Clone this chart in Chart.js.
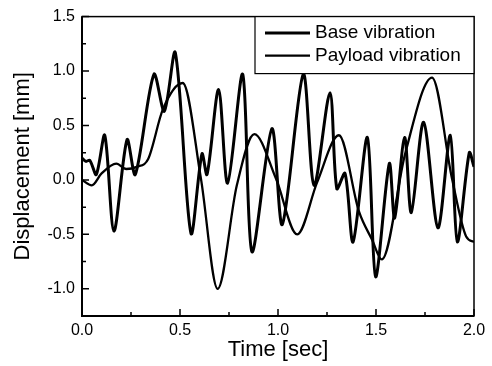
<!DOCTYPE html>
<html>
<head>
<meta charset="utf-8">
<script src="https://cdn.jsdelivr.net/npm/chart.js@4/dist/chart.umd.min.js"></script>
<style>
  html, body { margin: 0; padding: 0; background: #fff; }
</style>
</head>
<body>
<canvas id="chart" width="492" height="366"></canvas>
<script>
// --- data ---
const seriesNames = ["Base vibration", "Payload vibration"];

const baseTime = [0.000, 0.020, 0.040, 0.073, 0.116, 0.163, 0.230, 0.272, 0.367, 0.420, 0.476,
  0.556, 0.612, 0.638, 0.697, 0.743, 0.820, 0.867, 0.969, 1.022, 1.129, 1.184, 1.265,
  1.300, 1.342, 1.383, 1.456, 1.498, 1.568, 1.595, 1.646, 1.680, 1.743, 1.816, 1.879,
  1.915, 1.976, 2.000];
const baseDisp = [0.20, 0.17, 0.18, 0.05, 0.41, -0.47, 0.37, 0.05, 0.97, 0.63, 1.17,
  -0.49, 0.24, 0.05, 0.83, -0.03, 0.97, -0.66, 0.47, -0.41, 0.97, -0.05, 0.80,
  -0.08, 0.06, -0.57, 0.39, -0.89, 0.15, -0.35, 0.39, -0.30, 0.53, -0.44, 0.41,
  -0.57, 0.25, 0.12];

const payloadTime = [0.000, 0.050, 0.100, 0.175, 0.226, 0.280, 0.337, 0.413, 0.514, 0.607,
  0.692, 0.790, 0.879, 0.990, 1.098, 1.200, 1.311, 1.413, 1.480, 1.530, 1.650, 1.786,
  1.888, 1.960, 2.000];
const payloadDisp = [0.00, -0.05, 0.06, 0.15, 0.10, 0.12, 0.19, 0.65, 0.89, 0.01,
  -1.00, -0.05, 0.42, 0.01, -0.50, -0.02, 0.41, -0.29, -0.55, -0.73, 0.25, 0.94,
  0.01, -0.52, -0.57];

const xTicks = [0, 0.5, 1.0, 1.5, 2.0];
const xMinorTicks = [0.25, 0.75, 1.25, 1.75];
const yTicks = [-1.0, -0.5, 0, 0.5, 1.0, 1.5];
const yMinorTicks = [-0.75, -0.25, 0.25, 0.75, 1.25];

function toPoints(xs, ys) {
  return xs.map((t, i) => ({ x: t, y: ys[i] }));
}

Chart.defaults.font.family = "'Liberation Sans', Arial, sans-serif";
Chart.defaults.color = "#000";

// frame round the plot and inward tick marks
const frameTicks = {
  id: "frameTicks",
  afterDatasetsDraw(chart) {
    const { ctx, chartArea: a, scales: { x, y } } = chart;
    ctx.save();
    ctx.strokeStyle = "#000";
    ctx.lineWidth = 1.5;
    ctx.strokeRect(a.left, a.top, a.right - a.left, a.bottom - a.top);
    ctx.lineWidth = 2;
    ctx.beginPath();
    ctx.moveTo(a.left, a.top);
    ctx.lineTo(a.left, a.bottom);
    ctx.lineTo(a.right, a.bottom);
    ctx.stroke();

    ctx.lineWidth = 1.5;
    ctx.beginPath();
    xTicks.forEach(v => { const px = x.getPixelForValue(v); ctx.moveTo(px, a.bottom); ctx.lineTo(px, a.bottom - 7); });
    xMinorTicks.forEach(v => { const px = x.getPixelForValue(v); ctx.moveTo(px, a.bottom); ctx.lineTo(px, a.bottom - 4); });
    yTicks.forEach(v => { const py = y.getPixelForValue(v); ctx.moveTo(a.left, py); ctx.lineTo(a.left + 7, py); });
    yMinorTicks.forEach(v => { const py = y.getPixelForValue(v); ctx.moveTo(a.left, py); ctx.lineTo(a.left + 4, py); });
    ctx.stroke();
    ctx.restore();
  }
};

// legend box in the top right corner of the plot
const legendBox = {
  id: "legendBox",
  afterDraw(chart) {
    const { ctx, chartArea: a } = chart;
    const w = 219, h = 57;
    const x0 = a.right - w, y0 = a.top;
    ctx.save();
    ctx.fillStyle = "#fff";
    ctx.fillRect(x0, y0, w, h);
    ctx.strokeStyle = "#000";
    ctx.lineWidth = 1.2;
    ctx.strokeRect(x0, y0, w, h);
    chart.data.datasets.forEach((ds, i) => {
      const cy = y0 + 16.5 + i * 22.5;
      ctx.lineWidth = ds.borderWidth;
      ctx.beginPath();
      ctx.moveTo(x0 + 10, cy);
      ctx.lineTo(x0 + 55, cy);
      ctx.stroke();
      ctx.fillStyle = "#000";
      ctx.font = "19px 'Liberation Sans', Arial, sans-serif";
      ctx.textBaseline = "middle";
      ctx.fillText(ds.label, x0 + 60, cy);
    });
    ctx.restore();
  }
};

new Chart(document.getElementById("chart"), {
  type: "line",
  data: {
    datasets: [
      {
        label: seriesNames[0],
        data: toPoints(baseTime, baseDisp),
        borderColor: "#000",
        borderWidth: 3,
        pointRadius: 0,
        tension: 0.3
      },
      {
        label: seriesNames[1],
        data: toPoints(payloadTime, payloadDisp),
        borderColor: "#000",
        borderWidth: 2.3,
        pointRadius: 0,
        cubicInterpolationMode: "monotone"
      }
    ]
  },
  options: {
    responsive: false,
    animation: false,
    devicePixelRatio: 1,
    layout: { padding: { top: 13, right: 18, left: 0, bottom: 0 } },
    plugins: { legend: { display: false }, tooltip: { enabled: false } },
    scales: {
      x: {
        type: "linear",
        min: 0,
        max: 2,
        afterBuildTicks: s => { s.ticks = xTicks.map(v => ({ value: v })); },
        afterFit: s => { s.height = 50; },
        grid: { display: false, drawTicks: false },
        border: { display: false },
        ticks: {
          padding: 5,
          maxRotation: 0,
          autoSkip: false,
          font: { size: 16 },
          callback: v => v.toFixed(1)
        },
        title: { display: true, text: "Time [sec]", font: { size: 22 }, padding: { top: 0, bottom: 3 } }
      },
      y: {
        min: -1.25,
        max: 1.5,
        afterBuildTicks: s => { s.ticks = yTicks.map(v => ({ value: v })); },
        afterFit: s => { s.width = 82; },
        grid: { display: false, drawTicks: false },
        border: { display: false },
        ticks: {
          padding: 7,
          autoSkip: false,
          font: { size: 16 },
          callback: v => v.toFixed(1)
        },
        title: { display: true, text: "Displacement [mm]", font: { size: 22 }, padding: { top: 10, bottom: 0 } }
      }
    }
  },
  plugins: [frameTicks, legendBox]
});
</script>
</body>
</html>
